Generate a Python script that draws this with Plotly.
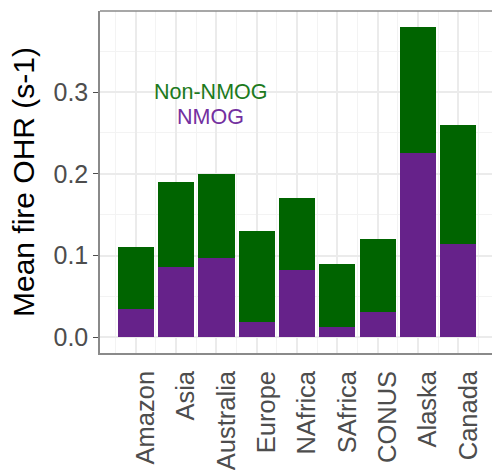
import plotly.graph_objects as go

# Mean fire OH reactivity by region, split into NMOG and non-NMOG parts
regions = ["Amazon", "Asia", "Australia", "Europe", "NAfrica",
           "SAfrica", "CONUS", "Alaska", "Canada"]
total_ohr = [0.11, 0.19, 0.20, 0.13, 0.17, 0.09, 0.12, 0.38, 0.26]
nmog_ohr = [0.035, 0.086, 0.097, 0.019, 0.082, 0.013, 0.031, 0.226, 0.114]
non_nmog_ohr = [t - n for t, n in zip(total_ohr, nmog_ohr)]

y_ticks = [0.0, 0.1, 0.2, 0.3]
y_minor = [0.05, 0.15, 0.25, 0.35]

GREEN = "#006400"
PURPLE = "#66228A"
FONT = "Liberation Sans, Arial, sans-serif"

pos = list(range(1, len(regions) + 1))
x_minor = [p - 0.5 for p in pos] + [pos[-1] + 0.5]

fig = go.Figure()
fig.add_trace(go.Bar(x=pos, y=nmog_ohr, name="NMOG", marker_color=PURPLE,
                     width=0.9, marker_line_width=0))
fig.add_trace(go.Bar(x=pos, y=non_nmog_ohr, name="Non-NMOG", marker_color=GREEN,
                     width=0.9, marker_line_width=0))

fig.add_annotation(x=2.85, y=0.30, text="Non-NMOG", showarrow=False,
                   font=dict(family=FONT, size=21.5, color="#1d7a1d"))
fig.add_annotation(x=2.85, y=0.27, text="NMOG", showarrow=False,
                   font=dict(family=FONT, size=21.5, color="#7330a0"))

# panel border along the top edge
fig.add_shape(type="line", xref="paper", yref="paper", x0=0, x1=1, y0=1, y1=1,
              line=dict(color="#8a8a8a", width=1.5))

fig.update_layout(
    width=492, height=470,
    margin=dict(l=100, r=0, t=11, b=117),
    barmode="stack",
    bargap=0,
    showlegend=False,
    plot_bgcolor="white",
    paper_bgcolor="white",
    font=dict(family=FONT),
)

fig.update_xaxes(
    range=[0.115, 9.835],
    tickmode="array", tickvals=pos, ticktext=regions,
    tickangle=-90,
    ticks="",
    ticklabelshift=10,
    ticklabelstandoff=6,
    tickfont=dict(family=FONT, size=25.5, color="#4D4D4D"),
    showgrid=True, gridcolor="#EBEBEB", gridwidth=1.6,
    minor=dict(tickmode="array", tickvals=x_minor, showgrid=True,
               gridcolor="#F3F3F3", gridwidth=1.0, ticks=""),
    showline=True, linecolor="#8a8a8a", linewidth=1.5,
    zeroline=False,
)

fig.update_yaxes(
    range=[-0.019, 0.399],
    tickmode="array", tickvals=y_ticks, tickformat=".1f",
    ticks="outside", ticklen=5, tickcolor="#4D4D4D", tickwidth=1.2,
    tickfont=dict(family=FONT, size=25, color="#4D4D4D"),
    showgrid=True, gridcolor="#EBEBEB", gridwidth=1.6,
    minor=dict(tickmode="array", tickvals=y_minor, showgrid=True,
               gridcolor="#F3F3F3", gridwidth=1.0, ticks=""),
    showline=True, linecolor="#8a8a8a", linewidth=1.5,
    zeroline=False,
    title=dict(text="Mean fire OHR (s-1)", standoff=10,
               font=dict(family=FONT, size=30, color="black")),
)

fig.write_html("out.html")
